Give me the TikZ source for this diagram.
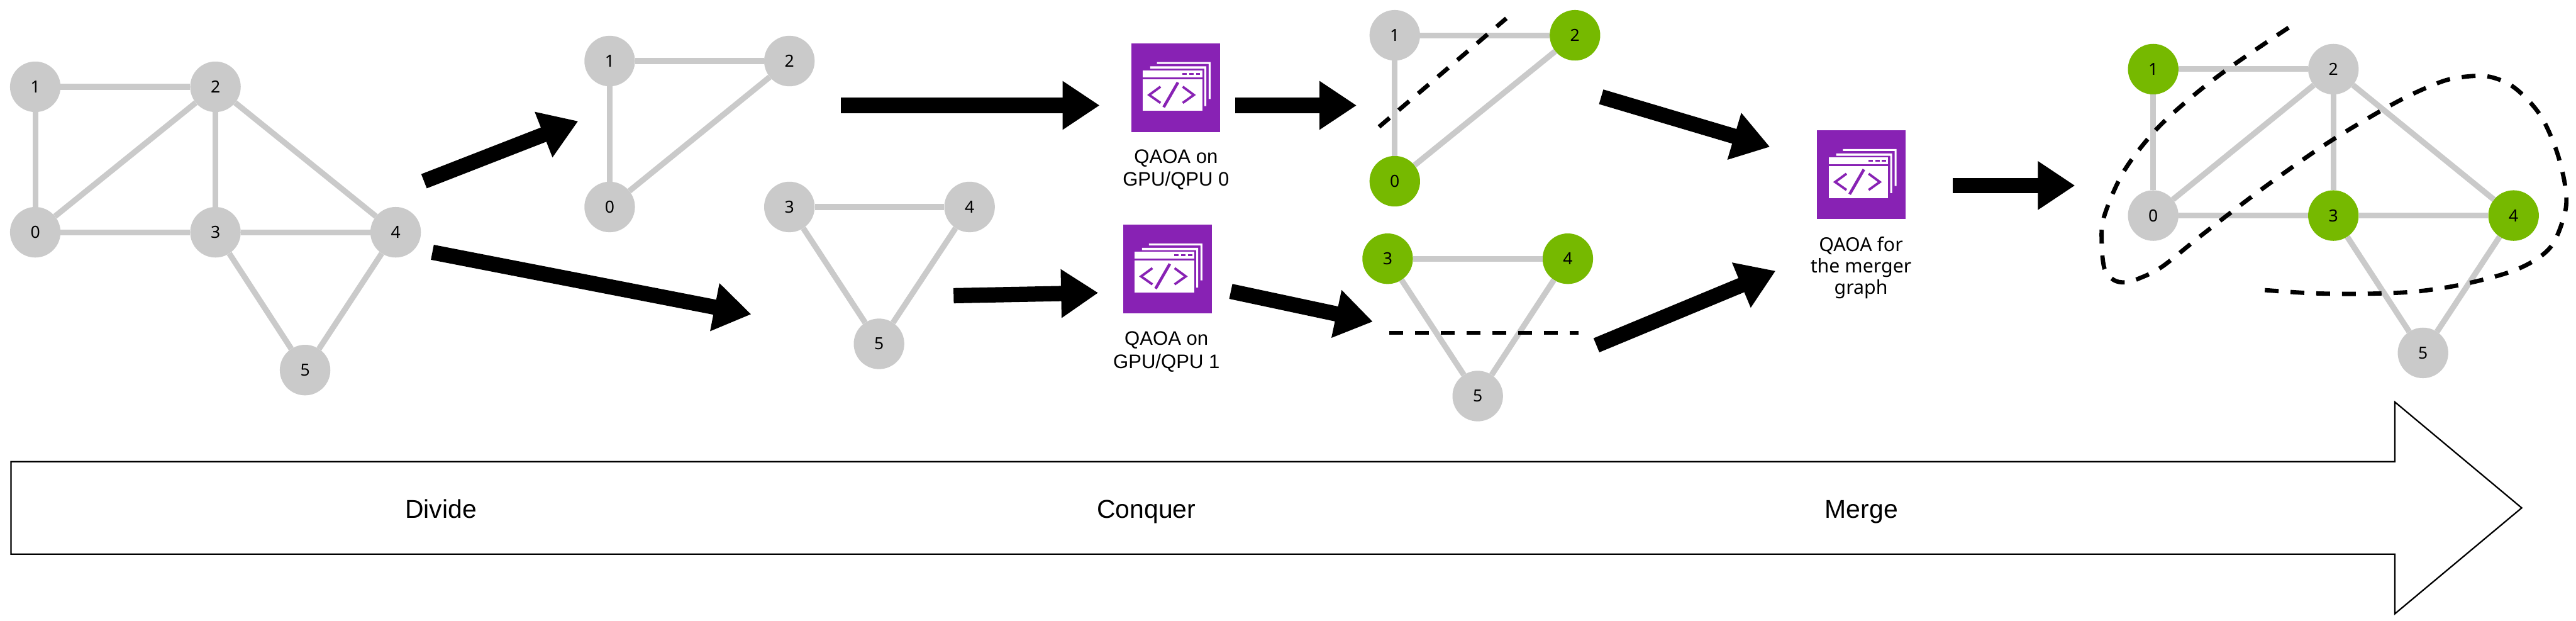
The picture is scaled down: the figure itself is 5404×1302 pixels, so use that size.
\documentclass[tikz,border=0pt]{standalone}
\usepackage{fontspec}
\setmainfont{Liberation Sans}
\newfontfamily\notof{Noto Sans}
\usetikzlibrary{arrows.meta}
\definecolor{vert}{HTML}{CACACA}
\definecolor{nvgreen}{HTML}{76B900}
\definecolor{iconpurple}{HTML}{8822B4}
\tikzset{
  vertex/.style={circle,fill=vert,minimum size=106pt,inner sep=0pt,font=\notof\fontsize{35}{35}\selectfont},
  chosen/.style={vertex,fill=nvgreen},
  edgeline/.style={draw=vert,line width=12pt},
  fatarrow/.style={line width=32pt,-{Triangle[length=78pt,width=97pt]}},
  cutline/.style={line width=9pt,dash pattern=on 29pt off 25pt},
  iconbox/.style={fill=iconpurple,minimum size=186pt,inner sep=0pt},
  gpulabel/.style={align=center,anchor=base,inner sep=0pt,font=\fontsize{41}{48}\selectfont},
  mergelabel/.style={align=center,anchor=base,inner sep=0pt,font=\notof\fontsize{40}{45}\selectfont},
  phase/.style={anchor=base,inner sep=0pt,font=\fontsize{54}{54}\selectfont},
  qaoaglyph/.pic={
    \fill[white] (24.3,57) rectangle (149.3,71);
    \fill[white] (24.3,75) rectangle (149.3,142);
    \fill[white] (40,48.3) -- (157.7,48.3) -- (157.7,131.7) -- (153.7,131.7) -- (153.7,53.3) -- (40,53.3) -- cycle;
    \fill[white] (54.3,39.3) -- (166.7,39.3) -- (166.7,116.7) -- (162.7,116.7) -- (162.7,43.3) -- (54.3,43.3) -- cycle;
    \draw[iconpurple,line width=4pt,dash pattern=on 9pt off 5pt] (108,64.3) -- (146,64.3);
    \draw[iconpurple,line width=5pt] (61.7,91) -- (38,108.3) -- (61.7,125);
    \draw[iconpurple,line width=5pt] (108.3,91) -- (131.7,108.3) -- (108.3,125);
    \draw[iconpurple,line width=6pt] (98.3,82) -- (68.3,134);
  }
}
\begin{document}
\begin{tikzpicture}[x=1pt,y=-1pt]
\useasboundingbox (0,0) rectangle (5404,1302);
\fill[white] (0,0) rectangle (5404,1302);

% Graph A
\node[vertex] (a0) at (74,487) {0};
\node[vertex] (a1) at (74,182) {1};
\node[vertex] (a2) at (452,182) {2};
\node[vertex] (a3) at (452,487) {3};
\node[vertex] (a4) at (830,487) {4};
\node[vertex] (a5) at (640,776) {5};
\foreach \u/\v in {a1/a2,a1/a0,a0/a2,a0/a3,a2/a3,a2/a4,a3/a4,a3/a5,a4/a5}
  \draw[edgeline] (\u) -- (\v);

% Graph B
\node[vertex] (b0) at (1279,434) {0};
\node[vertex] (b1) at (1279,128) {1};
\node[vertex] (b2) at (1656,128) {2};
\foreach \u/\v in {b1/b2,b1/b0,b0/b2}
  \draw[edgeline] (\u) -- (\v);

% Graph C
\node[vertex] (c3) at (1656,434) {3};
\node[vertex] (c4) at (2034,434) {4};
\node[vertex] (c5) at (1844,721) {5};
\foreach \u/\v in {c3/c4,c3/c5,c4/c5}
  \draw[edgeline] (\u) -- (\v);

% Graph D
\node[chosen] (d0) at (2926,380) {0};
\node[vertex] (d1) at (2926,74) {1};
\node[chosen] (d2) at (3304,74) {2};
\foreach \u/\v in {d1/d2,d1/d0,d0/d2}
  \draw[edgeline] (\u) -- (\v);
\coordinate (dcutA) at (2893,266);
\coordinate (dcutB) at (3160,38.5);
\draw[cutline] (dcutA) -- (dcutB);

% Graph E
\node[chosen] (e3) at (2911,542.5) {3};
\node[chosen] (e4) at (3289,542.5) {4};
\node[vertex] (e5) at (3100,830.5) {5};
\foreach \u/\v in {e3/e4,e3/e5,e4/e5}
  \draw[edgeline] (\u) -- (\v);
\coordinate (ecutA) at (2914.5,698);
\coordinate (ecutB) at (3311,698);
\draw[cutline] (ecutA) -- (ecutB);

% Graph F
\node[vertex] (f0) at (4517,452) {0};
\node[chosen] (f1) at (4517,145) {1};
\node[vertex] (f2) at (4895,145) {2};
\node[chosen] (f3) at (4895,452) {3};
\node[chosen] (f4) at (5273,452) {4};
\node[vertex] (f5) at (5083,740) {5};
\foreach \u/\v in {f1/f2,f1/f0,f0/f2,f0/f3,f2/f3,f2/f4,f3/f4,f3/f5,f4/f5}
  \draw[edgeline] (\u) -- (\v);
\draw[cutline] plot[smooth,tension=0.55] coordinates {
  (4801,58) (4687,135) (4603,199) (4522,273) (4455,360) (4414,454) (4409,510)
  (4415,564) (4434,587) (4458,592) (4487,584) (4536,559) (4620,492) (4747,395)
  (4881,301) (5022,217) (5117,173) (5170,161) (5223,161) (5275,184) (5328,240)
  (5363,316) (5382,395) (5380,449) (5349,520) (5282,564) (5177,594) (5071,611)
  (4962,616) (4853,615) (4747,608)};

% QAOA icons
\node[iconbox] (q0) at (2466,184) {};
\pic at (q0.north west) {qaoaglyph};
\node[gpulabel] (q0text) at (2467,390) {QAOA on\\GPU/QPU 0};

\node[iconbox] (q1) at (2449,564.5) {};
\pic at (q1.north west) {qaoaglyph};
\node[gpulabel] (q1text) at (2447,772) {QAOA on\\GPU/QPU 1};

\node[iconbox] (q2) at (3905,366.5) {};
\pic at (q2.north west) {qaoaglyph};
\node[mergelabel] (q2text) at (3904,617) {QAOA for\\the merger\\graph};

% Flow arrows
\coordinate (t1) at (889.5,380);   \coordinate (h1) at (1213,254);
\coordinate (t2) at (907,529);     \coordinate (h2) at (1576,659);
\coordinate (t3) at (1764,221);    \coordinate (h3) at (2307,221);
\coordinate (t4) at (2000.5,620);  \coordinate (h4) at (2304,614);
\coordinate (t5) at (2591,221);    \coordinate (h5) at (2846,221);
\coordinate (t6) at (2582,611);    \coordinate (h6) at (2880,674.5);
\coordinate (t7) at (3359,203);    \coordinate (h7) at (3713,308);
\coordinate (t8) at (3349,724);    \coordinate (h8) at (3725,568);
\coordinate (t9) at (4097,389);    \coordinate (h9) at (4353,389);
\foreach \i in {1,...,9}
  \draw[fatarrow] (t\i) -- (h\i);

% Timeline arrow
\draw[line width=3pt,line join=miter] (23,968) -- (5024,968) -- (5024,843) -- (5290,1065)
  -- (5024,1287) -- (5024,1162) -- (23,1162) -- cycle;
\node[phase] (divide) at (925,1086) {Divide};
\node[phase] (conquer) at (2405,1086) {Conquer};
\node[phase] (merge) at (3905,1086) {Merge};
\end{tikzpicture}
\end{document}
